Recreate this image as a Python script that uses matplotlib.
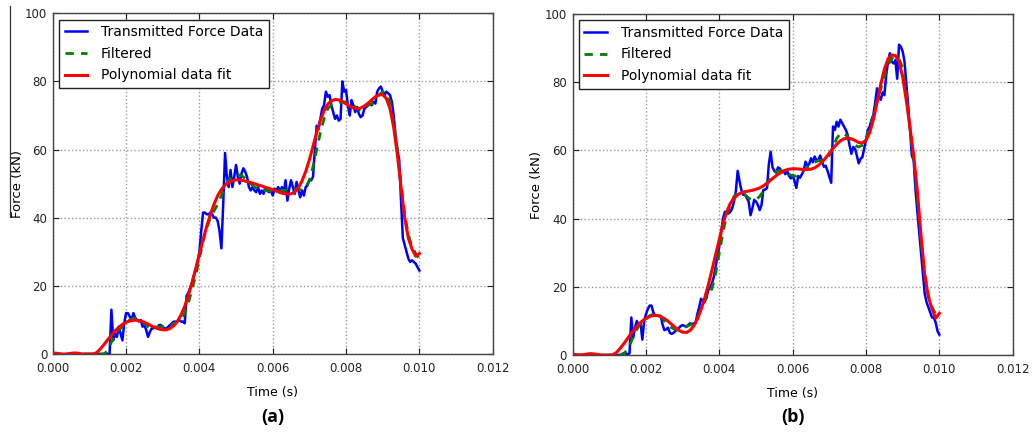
import numpy as np
import matplotlib
matplotlib.use("Agg")
import matplotlib.pyplot as plt
from matplotlib.lines import Line2D

# ---- data -------------------------------------------------------------
# raw transmitted force, sampled every 0.05 ms from 0 to 10 ms (kN)
raw_a = [0.0] * 32 + [
    13, 4, 6, 5, 8, 6, 4, 9,
    12, 12, 11, 10, 12, 10.5, 10, 9.5, 10, 8,
    8.5, 7, 5, 6.5, 7.5, 7.5, 8, 7.5, 8.5, 8.5,
    8, 7.5, 7.5, 8, 8.5, 9, 9.5, 9.5, 9.5, 10,
    9.5, 9.5, 9, 17, 18, 19.5, 21, 23, 25, 27,
    30, 36, 41.5, 41.5, 41, 41, 41.5, 41, 40, 40,
    39, 36, 31, 44, 59, 52, 49, 54, 49, 52,
    55.5, 52, 50, 53, 54.5, 53.5, 52, 49, 48, 49,
    48, 47.5, 49, 47, 48, 47, 49, 48, 47.5, 48,
    46.5, 48.5, 48, 49, 47.5, 49, 47, 51, 45, 48.5,
    51, 49, 47, 50.5, 48, 46, 48, 46.5, 49, 49.5,
    51, 51, 52, 60, 67, 66, 69, 72, 73, 77,
    75.5, 76, 73, 71, 69, 70, 68.5, 69, 80, 77,
    77.5, 73, 70, 74.5, 73, 71, 72.5, 70.5, 69.5, 70,
    72, 72.5, 73, 73.5, 73, 74, 73.5, 77, 78, 78.5,
    77, 76, 77, 76.5, 76, 74, 70, 64, 60, 57,
    45, 34, 32, 30, 28, 27, 27.5, 27, 26.5, 25.5,
    24.5,
]

raw_b = [0.0] * 27 + [
    0.3, 0.5, 0.5, 0.2, 0.5, 11, 5, 8, 10, 8.5, 9.5, 4.5, 10,
    12, 13.5, 14.5, 14.5, 12.5, 11.5, 11.5, 11.5, 11.5, 9,
    7.3, 7.5, 8, 6.5, 6.2, 6.5, 7, 7.5, 8, 8.5,
    8.8, 8.5, 8.3, 8.8, 9.3, 9, 9.3, 9.3, 12, 14,
    16.5, 16, 15.6, 17, 19, 20, 21, 23, 26, 29,
    32, 36, 40, 42, 42, 41.5, 42, 43, 45, 48,
    54, 51, 48.4, 47, 47, 46, 45, 41, 43, 45.5,
    45, 44, 42.5, 44, 48.4, 48.5, 49, 56, 59.6, 55,
    54, 53.5, 55, 54.7, 53.5, 54, 53, 54, 52.5, 51.8,
    52.8, 51, 49, 52.5, 52, 53, 54, 56.7, 55.5, 56,
    57.7, 56.5, 58.2, 57, 57.2, 58.5, 56.8, 55.2, 55.5, 54,
    52.3, 50.5, 67, 66, 68.4, 67, 69, 68, 67, 66,
    64.5, 61.5, 59, 61, 60.5, 58.5, 56.2, 57.5, 58, 60.6,
    63, 66, 67, 69, 70.4, 74, 78.2, 76, 74.8, 77,
    76.2, 82, 86, 88.5, 86, 85.5, 86.5, 81, 91, 90.4,
    89, 86, 79.5, 73, 66, 58.5, 57, 48.4, 42, 36,
    30, 24, 18, 15.5, 14, 12.5, 11, 11, 9.5, 7,
    6,
]

# filtered signal, every 0.1 ms from 0 to 10 ms (kN)
filt_a = [0] * 15 + [
    1, 3.5, 5.5, 7, 8,
    9, 10, 10.5, 10.5, 10, 9, 8, 7.5, 7.8, 8,
    8, 7.8, 8.2, 9, 9.5, 10, 12, 15, 19, 23,
    28, 33, 37, 40, 42, 44, 46.5, 49, 51, 52,
    52.5, 52.5, 52, 51, 50, 49, 48.5, 48, 48, 48,
    47.5, 48, 48, 48, 48, 48.5, 48.5, 48.5, 48, 49,
    51, 55, 60, 65, 69, 72, 73, 73.5, 73.5, 74,
    74, 73.5, 73, 72, 71.5, 72, 73, 73.5, 74.5, 76,
    77, 76.5, 74, 68, 60, 50, 41, 35, 31.5, 29.5,
    28,
]

filt_b = [0] * 14 + [
    0.5, 1.5, 4, 6.5, 8.5, 9.5,
    10.5, 11.5, 12, 12, 11.3, 10, 8.8, 8, 7.5, 7.5,
    7.8, 8.3, 8.8, 9.5, 11, 13.5, 16, 17.5, 19.5, 24,
    30, 36, 41, 44, 46.5, 47.5, 47.5, 47, 46, 45.5,
    45.5, 46.5, 48, 50, 52, 53.5, 54, 54, 53.5, 53,
    52.5, 52.5, 53, 54, 55, 56, 56.5, 57, 57, 57.5,
    58.5, 61, 63.5, 65, 65, 64, 62.5, 61.5, 61, 61.5,
    63.5, 66.5, 70, 74.5, 78, 81.5, 85, 87, 87.5, 87,
    84, 77, 67, 57, 46, 34, 24, 17.5, 14, 12,
    11,
]

# polynomial fit, every 0.1 ms from 0 to 10 ms (kN)
fit_a = [
    0.3, 0.2, 0.0, -0.1, 0.0, 0.2, 0.3, 0.2, 0.0, -0.1,
    -0.1, 0.0, 0.4, 1.5, 2.8, 4.2, 5.5, 6.8, 7.8, 8.7,
    9.3, 9.7, 9.9, 9.9, 9.7, 9.3, 8.8, 8.2, 7.7, 7.3,
    7.1, 7.1, 7.5, 8.3, 9.6, 11.5, 14.0, 17.2, 21.0, 25.0,
    29.3, 33.5, 37.5, 41.0, 44.0, 46.5, 48.3, 49.6, 50.4, 50.9,
    51.1, 51.1, 50.9, 50.6, 50.3, 50.0, 49.6, 49.3, 48.9, 48.6,
    48.2, 47.8, 47.4, 47.1, 46.9, 47.0, 47.6, 48.8, 50.8, 53.6,
    57.0, 61.0, 65.0, 68.6, 71.4, 73.3, 74.3, 74.7, 74.6, 74.1,
    73.4, 72.7, 72.2, 72.0, 72.2, 72.8, 73.6, 74.6, 75.5, 76.1,
    76.1, 75.0, 72.0, 66.5, 58.5, 49.0, 40.0, 34.0, 30.8, 28.7,
    29.5,
]

fit_b = [
    0.2, 0.1, 0.0, 0.1, 0.3, 0.4, 0.3, 0.1, 0.0, -0.1,
    -0.1, 0.1, 0.8, 2.0, 3.4, 4.9, 6.4, 7.8, 9.0, 10.0,
    10.8, 11.3, 11.6, 11.6, 11.3, 10.7, 9.9, 9.0, 8.0, 7.2,
    6.7, 6.6, 7.2, 8.5, 10.5, 13.3, 16.7, 20.6, 25.0, 29.5,
    34.0, 38.5, 42.0, 44.5, 46.0, 47.0, 47.6, 47.9, 48.1, 48.3,
    48.6, 49.0, 49.6, 50.4, 51.3, 52.2, 53.0, 53.7, 54.2, 54.5,
    54.6, 54.6, 54.5, 54.4, 54.4, 54.5, 54.9, 55.6, 56.6, 57.8,
    59.2, 60.6, 61.8, 62.8, 63.4, 63.6, 63.4, 62.9, 62.3, 62.2,
    63.0, 65.2, 69.0, 74.0, 79.3, 83.8, 86.8, 88.0, 87.8, 86.0,
    81.5, 74.5, 66.5, 58.5, 48.0, 35.0, 23.5, 17.0, 13.5, 10.8,
    12.2,
]

t_raw = np.linspace(0.0, 0.010, len(raw_a))
t_smooth = np.linspace(0.0, 0.010, len(fit_a))

panel_labels = ["(a)", "(b)"]
legend_labels = ["Transmitted Force Data", "Filtered", "Polynomial data fit"]
x_ticks = [0.000, 0.002, 0.004, 0.006, 0.008, 0.010, 0.012]
y_ticks = [0, 20, 40, 60, 80, 100]

# ---- figure -----------------------------------------------------------
plt.rcParams["font.family"] = ["DejaVu Sans"]
fig = plt.figure(figsize=(10.32, 4.33), dpi=100)

axes_rects = [
    [0.0511, 0.1825, 0.4263, 0.7868],
    [0.5549, 0.1801, 0.4264, 0.7876],
]
panels = [(raw_a, filt_a, fit_a), (raw_b, filt_b, fit_b)]

for rect, (raw, filt, fit), plab in zip(axes_rects, panels, panel_labels):
    ax = fig.add_axes(rect)
    ax.plot(t_raw, raw, color="#0000ff", lw=1.8, label=legend_labels[0], zorder=3)
    ax.plot(t_smooth, filt, color="#008000", lw=2.0, ls=(0, (3.0, 2.6)),
            label=legend_labels[1], zorder=4)
    ax.plot(t_smooth, fit, color="#ff0000", lw=2.2, label=legend_labels[2], zorder=5)

    ax.set_xlim(0, 0.012)
    ax.set_ylim(0, 100)
    ax.set_xticks(x_ticks)
    ax.set_xticklabels([f"{v:.3f}" for v in x_ticks])
    ax.set_yticks(y_ticks)
    ax.tick_params(labelsize=8.5, direction="in", top=True, right=True,
                   length=4, width=0.8, colors="#222222")
    ax.tick_params(axis="x", pad=6)
    ax.tick_params(axis="y", pad=4)
    ax.grid(True, color="#999999", ls=":", lw=1.0)
    for s in ax.spines.values():
        s.set_color("#444444")
        s.set_linewidth(1.0)

    ax.set_xlabel("Time (s)", fontsize=9, labelpad=8)
    ax.set_ylabel("Force (kN)", fontsize=9.5, labelpad=1)

    leg = ax.legend(loc="upper left", fontsize=10, fancybox=False,
                    framealpha=1, edgecolor="#222222", handlelength=1.6,
                    handletextpad=1.0, labelspacing=0.55,
                    borderaxespad=0.45, borderpad=0.4)
    leg.get_frame().set_linewidth(1.0)

    cx = rect[0] + rect[2] / 2
    fig.text(cx, 0.037, plab, ha="center", va="center", fontsize=13,
             fontweight="bold", family=["Open Sans", "DejaVu Sans"])

# thin vertical rule at the far left edge
fig.add_artist(Line2D([0.0097, 0.0097], [0.50, 0.985], color="#333333",
                      lw=0.9, transform=fig.transFigure))

fig.savefig("out.png", dpi=100)
